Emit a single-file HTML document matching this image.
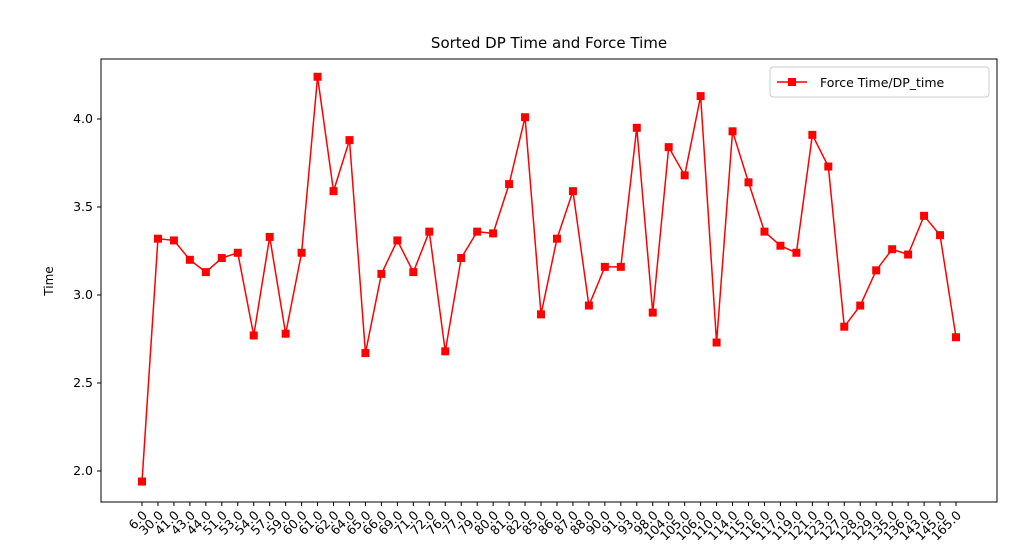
<!DOCTYPE html>
<html><head><meta charset="utf-8"><style>body{margin:0;background:#fff}svg{display:block;font-family:"DejaVu Sans","Liberation Sans",sans-serif}</style></head>
<body>
<svg id="chart" width="1010" height="559">
<rect x="101" y="59" width="896" height="443" fill="none" stroke="#000" stroke-width="1"/>
<text x="549" y="48" text-anchor="middle" font-size="15">Sorted DP Time and Force Time</text>
<text transform="translate(53,281) rotate(-90)" text-anchor="middle" font-size="12">Time</text>
<g id="yaxis"></g><g id="xaxis"></g><g id="series"></g>
<g>
<rect x="770" y="67" width="219" height="30" fill="#fff" stroke="#ccc" rx="3"/>
<line x1="777" y1="82" x2="807" y2="82" stroke="red" stroke-width="1.5"/>
<rect x="788" y="78" width="8" height="8" fill="red"/>
<text x="820" y="87" font-size="12.5">Force Time/DP_time</text>
</g>
</svg>
<script>
const categories=["6.0","30.0","41.0","43.0","44.0","51.0","53.0","54.0","57.0","59.0","60.0","61.0","62.0","64.0","65.0","66.0","69.0","71.0","72.0","76.0","77.0","79.0","80.0","81.0","82.0","85.0","86.0","87.0","88.0","90.0","91.0","93.0","98.0","104.0","105.0","106.0","110.0","114.0","115.0","116.0","117.0","119.0","121.0","123.0","127.0","128.0","129.0","135.0","136.0","143.0","145.0","165.0"];
const values=[1.94,3.32,3.31,3.20,3.13,3.21,3.24,2.77,3.33,2.78,3.24,4.24,3.59,3.88,2.67,3.12,3.31,3.13,3.36,2.68,3.21,3.36,3.35,3.63,4.01,2.89,3.32,3.59,2.94,3.16,3.16,3.95,2.90,3.84,3.68,4.13,2.73,3.93,3.64,3.36,3.28,3.24,3.91,3.73,2.82,2.94,3.14,3.26,3.23,3.45,3.34,2.76];
const yTicks=[2.0,2.5,3.0,3.5,4.0];
const ns="http://www.w3.org/2000/svg";
const x=i=>142+i*(956-142)/(categories.length-1);
const y=v=>295-(v-3)*176;
function mk(t,a,p){const e=document.createElementNS(ns,t);for(const k in a)e.setAttribute(k,a[k]);p.appendChild(e);return e;}
const ya=document.getElementById('yaxis'),xa=document.getElementById('xaxis'),se=document.getElementById('series');
yTicks.forEach(v=>{
const l=mk('line',{x1:97,x2:101,y1:y(v),y2:y(v),stroke:'#000'},ya);


const t=mk('text',{x:93,y:y(v)+4,'text-anchor':'end','font-size':12.5},ya);


t.textContent=v.toFixed(1);
});
categories.forEach((c,i)=>{
const l=mk('line',{x1:x(i),x2:x(i),y1:502,y2:506,stroke:'#000'},xa);


const t=mk('text',{transform:`translate(${x(i)+6},${516}) rotate(-45)`,'text-anchor':'end','font-size':12.5},xa);


t.textContent=c;
});
const pl=mk('polyline',{points:values.map((v,i)=>x(i)+','+y(v)).join(' '),fill:'none',stroke:'red','stroke-width':1.5},se);


values.forEach((v,i)=>{
const r=mk('rect',{x:x(i)-4,y:y(v)-4,width:8,height:8,fill:'red'},se);


});
</script>
</body></html>
